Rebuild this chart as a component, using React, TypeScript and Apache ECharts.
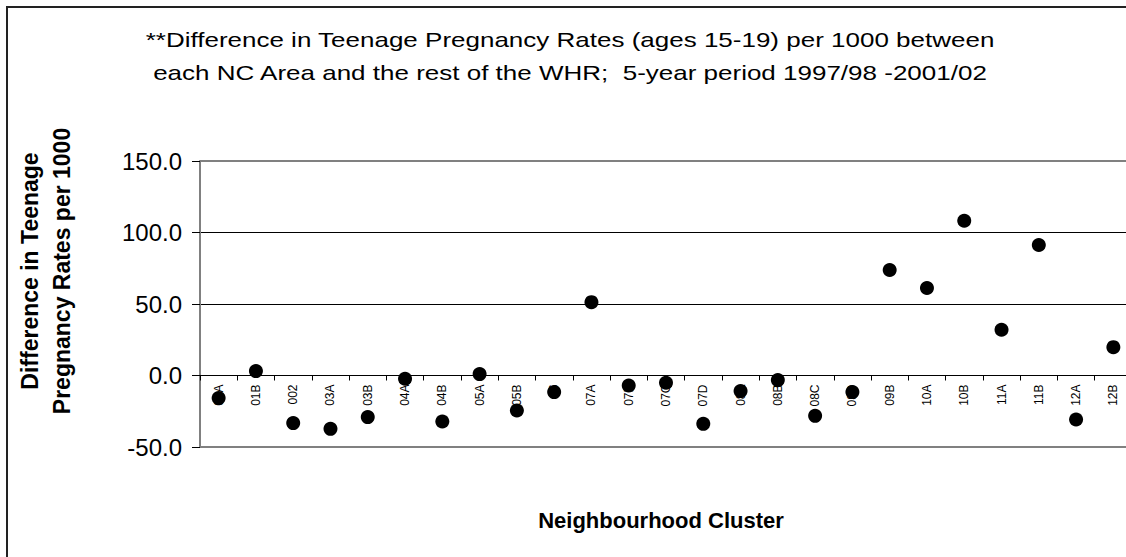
import React, { useEffect, useRef } from "react";
import * as echarts from "echarts";

const categories = [
  "01A", "01B", "002", "03A", "03B", "04A", "04B", "05A", "05B", "06",
  "07A", "07B", "07C", "07D", "08A", "08B", "08C", "08D", "09B", "10A",
  "10B", "11A", "11B", "12A", "12B",
];
const differences = [
  -15.8, 3.1, -33.3, -37.3, -29.1, -2.3, -32.2, 1.0, -24.5, -11.6,
  51.3, -7.0, -5.1, -33.8, -10.9, -3.2, -28.2, -11.6, 73.8, 61.2,
  108.2, 32.0, 91.3, -30.8, 19.8,
];
const yMin = -50;
const yMax = 150;
const yStep = 50;

const titleLines = [
  "**Difference in Teenage Pregnancy Rates (ages 15-19) per 1000 between",
  "each NC Area and the rest of the WHR;  5-year period 1997/98 -2001/02",
];
const yTitleLines = ["Difference in Teenage", "Pregnancy Rates per 1000"];
const xTitle = "Neighbourhood Cluster";

const FONT = "'Liberation Sans', Arial, Helvetica, sans-serif";

const GRID_TOP = 161;
const GRID_HEIGHT = 286;

export default function App() {
  const ref = useRef<HTMLDivElement>(null);
  useEffect(() => {
    if (!ref.current) return;
    const chart = echarts.init(ref.current, undefined, { renderer: "svg" });
    // x axis sits on the value 0 of the y scale
    const zeroOffset = -((0 - yMin) / (yMax - yMin)) * GRID_HEIGHT;
    chart.setOption({
      animation: false,
      backgroundColor: "#ffffff",
      textStyle: { fontFamily: FONT },
      grid: {
        left: 200,
        width: 932,
        top: GRID_TOP,
        height: GRID_HEIGHT,
        show: false,
        containLabel: false,
        outerBoundsMode: "none",
      },
      xAxis: {
        type: "category",
        data: categories,
        boundaryGap: true,
        position: "bottom",
        offset: zeroOffset,
        axisLine: { show: true, onZero: false, lineStyle: { color: "#000", width: 1 } },
        axisTick: { show: true, length: 5, inside: false, lineStyle: { color: "#000" } },
        axisLabel: {
          interval: 0,
          rotate: 90,
          margin: 9,
          fontSize: 12,
          color: "#000",
          fontFamily: FONT,
          hideOverlap: false,
        },
        splitLine: { show: false },
        z: 1,
      },
      yAxis: {
        type: "value",
        min: yMin,
        max: yMax,
        interval: yStep,
        axisLine: { show: true, onZero: false, lineStyle: { color: "#808080", width: 2 } },
        axisTick: { show: true, length: 8, lineStyle: { color: "#000" } },
        axisLabel: {
          formatter: (v: number) => v.toFixed(1),
          fontSize: 24,
          color: "#000",
          margin: 18,
          fontFamily: FONT,
        },
        splitLine: {
          show: true,
          lineStyle: { color: ["#808080", "#000", "#000", "#000", "#808080"], width: 1 },
        },
      },
      series: [
        {
          type: "scatter",
          data: differences,
          symbol: "circle",
          symbolSize: 14,
          itemStyle: { color: "#000", opacity: 1 },
          z: 5,
        },
        {
          // plot-area border lines at the axis limits (top and bottom), gray and thick
          type: "line",
          data: [],
          markLine: {
            silent: true,
            symbol: "none",
            label: { show: false },
            lineStyle: { color: "#808080", width: 2, type: "solid" },
            data: [{ yAxis: yMin }, { yAxis: yMax }],
          },
        },
      ],
      graphic: [
        {
          type: "line",
          shape: { x1: 7, y1: 6, x2: 7, y2: 557 },
          style: { stroke: "#222", lineWidth: 2 },
          silent: true,
          z: 100,
        },
        {
          type: "line",
          shape: { x1: 6, y1: 7, x2: 1126, y2: 7 },
          style: { stroke: "#222", lineWidth: 2 },
          silent: true,
          z: 100,
        },
        {
          type: "text",
          x: 570,
          y: 40,
          scaleX: 1.3,
          style: {
            text: titleLines[0],
            fontSize: 20,
            fontFamily: FONT,
            fill: "#000",
            align: "center",
            verticalAlign: "middle",
          },
        },
        {
          type: "text",
          x: 570,
          y: 73,
          scaleX: 1.3,
          style: {
            text: titleLines[1],
            fontSize: 20,
            fontFamily: FONT,
            fill: "#000",
            align: "center",
            verticalAlign: "middle",
          },
        },
        {
          type: "text",
          x: 30,
          y: 271,
          rotation: Math.PI / 2,
          style: {
            text: yTitleLines[0],
            fontSize: 23,
            fontWeight: "bold",
            fontFamily: FONT,
            fill: "#000",
            align: "center",
            verticalAlign: "middle",
          },
        },
        {
          type: "text",
          x: 62,
          y: 271,
          rotation: Math.PI / 2,
          style: {
            text: yTitleLines[1],
            fontSize: 23,
            fontWeight: "bold",
            fontFamily: FONT,
            fill: "#000",
            align: "center",
            verticalAlign: "middle",
          },
        },
        {
          type: "text",
          x: 661,
          y: 520,
          style: {
            text: xTitle,
            fontSize: 22,
            fontWeight: "bold",
            fontFamily: FONT,
            fill: "#000",
            align: "center",
            verticalAlign: "middle",
          },
        },
      ],
    });
    return () => chart.dispose();
  }, []);
  return (
    <div
      ref={ref}
      style={{ position: "absolute", left: 0, top: 0, width: 1126, height: 557 }}
    />
  );
}
